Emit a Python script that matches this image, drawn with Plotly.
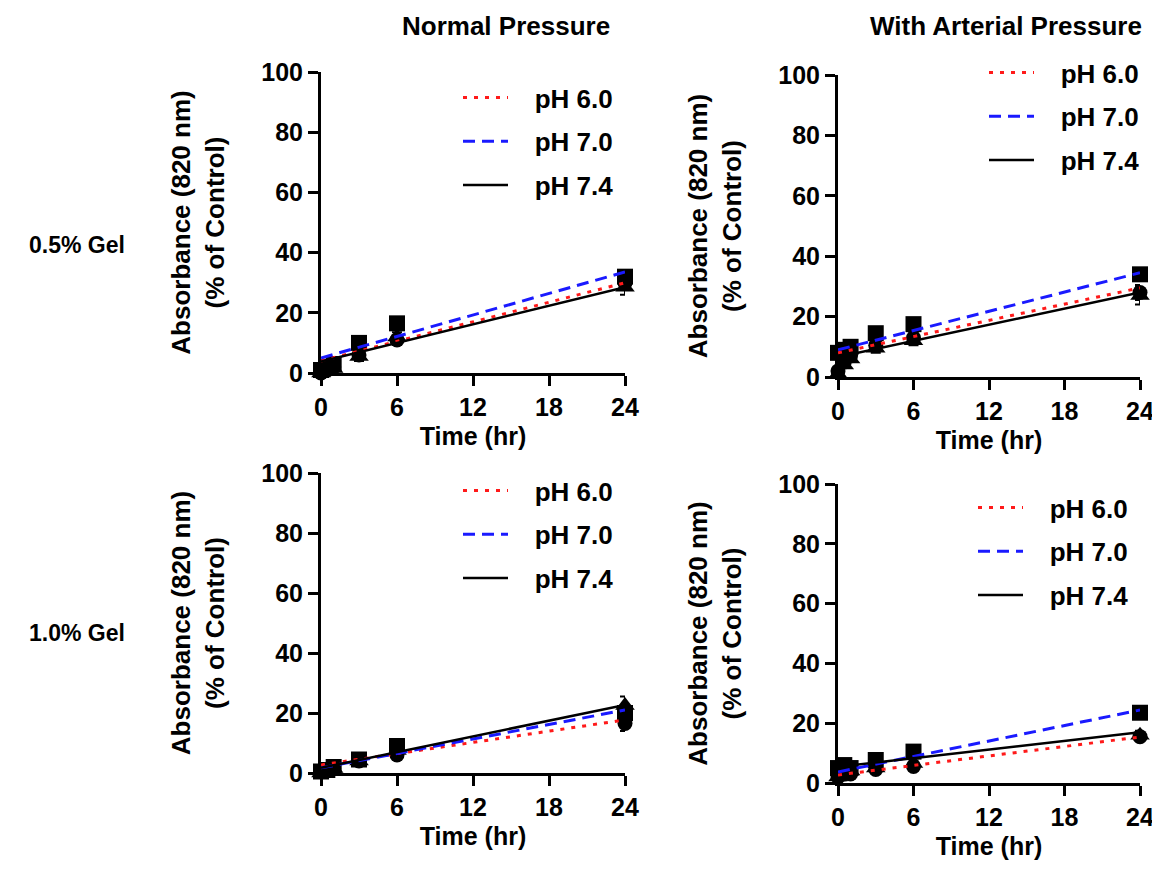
import plotly.graph_objects as go

# ---------------- data ----------------
time_hr = [0, 0.5, 1, 3, 6, 24]
series_names = ["pH 6.0", "pH 7.0", "pH 7.4"]
column_titles = ["Normal Pressure", "With Arterial Pressure"]
row_titles = ["0.5% Gel", "1.0% Gel"]
x_ticks = [0, 6, 12, 18, 24]
y_ticks = [0, 20, 40, 60, 80, 100]

# Panel A: Normal pressure, 0.5% gel
a_ph60 = [0, 1, 2, 6, 11, 30]
a_ph70 = [1, 2, 3, 10, 16.5, 32]
a_ph74 = [0, 1, 1.5, 5.5, 12, 28.5]
a_err60 = [0.5, 0.5, 0.5, 1, 1.5, 2]
a_err70 = [0.5, 0.5, 1, 1, 2, 1.5]
a_err74 = [0.5, 0.5, 0.5, 1.5, 1.5, 2.5]
a_fit_intercept = [4.0, 5.0, 3.8]
a_fit_slope = [1.083, 1.19, 1.03]

# Panel B: Arterial pressure, 0.5% gel
b_ph60 = [2, 5, 7, 10.5, 13, 28]
b_ph70 = [8, 9, 10, 14.5, 17.5, 34]
b_ph74 = [1, 4, 6, 9.5, 12, 27]
b_err60 = [1, 1, 1, 1.5, 1.5, 2.5]
b_err70 = [1, 1, 1, 1.5, 1.5, 2]
b_err74 = [1, 1, 1, 1.5, 1.5, 3]
b_fit_intercept = [8.0, 9.0, 6.6]
b_fit_slope = [0.896, 1.063, 0.892]

# Panel C: Normal pressure, 1.0% gel
c_ph60 = [0.5, 1, 1.5, 4, 6, 16.5]
c_ph70 = [0.5, 1, 2, 4.5, 9, 20]
c_ph74 = [0, 0.5, 1.5, 4, 7.5, 22.5]
c_err60 = [0.5, 0.5, 0.5, 1, 1, 2.5]
c_err70 = [0.5, 0.5, 0.5, 1, 1.5, 2]
c_err74 = [0.5, 0.5, 0.5, 1, 1, 3]
c_fit_intercept = [2.7, 1.7, 1.7]
c_fit_slope = [0.625, 0.804, 0.875]

# Panel D: Arterial pressure, 1.0% gel
d_ph60 = [2, 3, 3, 4.5, 5.5, 15.5]
d_ph70 = [5, 6, 5, 7.7, 10.5, 23.5]
d_ph74 = [2, 3.5, 4, 5, 6.5, 16]
d_err60 = [1, 1, 1, 1, 1, 1.5]
d_err70 = [1, 1, 1, 1, 1.5, 1.5]
d_err74 = [1, 1, 1, 1, 1, 1.5]
d_fit_intercept = [2.7, 3.7, 5.4]
d_fit_slope = [0.529, 0.8625, 0.483]

panels = [
    dict(vals=[a_ph60, a_ph70, a_ph74], errs=[a_err60, a_err70, a_err74],
         b0=a_fit_intercept, b1=a_fit_slope),
    dict(vals=[b_ph60, b_ph70, b_ph74], errs=[b_err60, b_err70, b_err74],
         b0=b_fit_intercept, b1=b_fit_slope),
    dict(vals=[c_ph60, c_ph70, c_ph74], errs=[c_err60, c_err70, c_err74],
         b0=c_fit_intercept, b1=c_fit_slope),
    dict(vals=[d_ph60, d_ph70, d_ph74], errs=[d_err60, d_err70, d_err74],
         b0=d_fit_intercept, b1=d_fit_slope),
]

# ---------------- styles ----------------
FONT = "Arial, 'Liberation Sans', sans-serif"
OFF = 8                      # page body margin of the html page
W, H = 1160 - OFF, 871 - OFF
FS_TICK = 25
FS_TITLE = 25
FS_YTITLE = 26
FS_LEG = 26
FS_HEAD = 26
FS_ROW = 23
marker_symbols = ["circle", "square", "triangle-up"]
marker_sizes = [15, 16, 17]
line_colors = ["#ff1a1a", "#1a1aff", "#000000"]
line_dashes = ["4px,7px", "12px,7px", "solid"]
line_widths = [3, 3, 2.5]


def px(x):
    return (x - OFF) / W


def py(y):
    return (H - (y - OFF)) / H


# window-pixel boxes of each plot area: (left, right, top, bottom)
boxes = [(321, 625, 72, 373), (838, 1140, 75, 377),
         (321, 625, 473, 773), (838, 1140, 484, 783)]
legend_pos = [(458, 74), (984, 49), (458, 467), (973, 484)]

fig = go.Figure()

for i, p in enumerate(panels):
    xa = "x" if i == 0 else f"x{i+1}"
    ya = "y" if i == 0 else f"y{i+1}"
    leg = "legend" if i == 0 else f"legend{i+1}"
    # data points with error bars
    for s in range(3):
        fig.add_trace(go.Scatter(
            x=time_hr, y=p["vals"][s], mode="markers", xaxis=xa, yaxis=ya,
            marker=dict(symbol=marker_symbols[s], size=marker_sizes[s], color="black"),
            error_y=dict(type="data", array=p["errs"][s], color="black",
                         thickness=2, width=5),
            showlegend=False, cliponaxis=False, hoverinfo="skip"))
    # linear fit lines
    for s in range(3):
        t0, t1 = min(time_hr), max(time_hr)
        fig.add_trace(go.Scatter(
            x=[t0, t1], y=[p["b0"][s] + p["b1"][s] * t0, p["b0"][s] + p["b1"][s] * t1],
            mode="lines", xaxis=xa, yaxis=ya, name="\u00a0\u00a0\u00a0" + series_names[s],
            line=dict(color=line_colors[s], dash=line_dashes[s], width=line_widths[s]),
            legend=leg, legendgroup=f"{i}-{s}", showlegend=True, cliponaxis=False))

layout = dict(
    width=W, height=H, margin=dict(l=0, r=0, t=0, b=0, autoexpand=False),
    paper_bgcolor="white", plot_bgcolor="white",
    font=dict(family=FONT, size=FS_TICK, color="black", weight="bold"),
)

for i, (l, r, t, b) in enumerate(boxes):
    sfx = "" if i == 0 else str(i + 1)
    xa_name, ya_name = "x" + sfx, "y" + sfx
    layout["xaxis" + sfx] = dict(
        domain=[px(l), px(r)], anchor=ya_name, range=[0, 24], automargin=False,
        tickvals=x_ticks, ticks="outside", ticklen=10, tickwidth=3, tickcolor="black",
        showline=True, linewidth=3, linecolor="black", showgrid=False, zeroline=False,
        tickfont=dict(family=FONT, size=FS_TICK, weight="bold"),
        title=dict(text="Time (hr)", font=dict(family=FONT, size=FS_TITLE, weight="bold"),
                   standoff=8),
        fixedrange=True)
    layout["yaxis" + sfx] = dict(
        domain=[py(b), py(t)], anchor=xa_name, range=[0, 100], automargin=False,
        tickvals=y_ticks, ticks="outside", ticklen=10, tickwidth=3, tickcolor="black",
        showline=True, linewidth=3, linecolor="black", showgrid=False, zeroline=False,
        tickfont=dict(family=FONT, size=FS_TICK, weight="bold"),
        title=dict(text="Absorbance (820 nm)<br>(% of Control)",
                   font=dict(family=FONT, size=FS_YTITLE, weight="bold"), standoff=30),
        fixedrange=True)
    lx, ly = legend_pos[i]
    layout["legend" + sfx] = dict(
        x=px(lx), y=py(ly), xanchor="left", yanchor="top",
        bgcolor="rgba(0,0,0,0)", borderwidth=0, tracegroupgap=7, itemwidth=45,
        font=dict(family=FONT, size=FS_LEG, weight="bold"))

fig.update_layout(**layout)

ann = []
for j, txt in enumerate(column_titles):
    ann.append(dict(text=txt, x=px([506, 1006][j]), y=py(26), xref="paper", yref="paper",
                    showarrow=False, xanchor="center", yanchor="middle",
                    font=dict(family=FONT, size=FS_HEAD, weight="bold")))
for j, txt in enumerate(row_titles):
    ann.append(dict(text=txt, x=px(77), y=py([245, 633][j]), xref="paper", yref="paper",
                    showarrow=False, xanchor="center", yanchor="middle",
                    font=dict(family=FONT, size=FS_ROW, weight="bold")))
fig.update_layout(annotations=ann)

fig.write_html("out.html")
